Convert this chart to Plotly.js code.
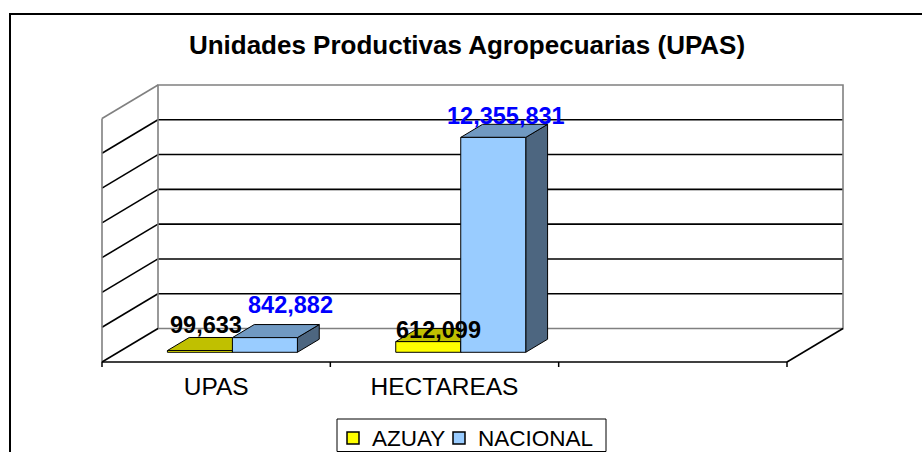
<!DOCTYPE html>
<html><head><meta charset="utf-8">
<script src="https://cdn.plot.ly/plotly-3.0.1.min.js"></script>
<style>html,body{margin:0;padding:0;background:#fff}</style>
</head><body><div id="chart" style="width:922px;height:452px"></div>
<script>
// ---------------- data ----------------
const chartTitle = 'Unidades Productivas Agropecuarias (UPAS)';
const categories = ['UPAS', 'HECTAREAS'];
const seriesNames = ['AZUAY', 'NACIONAL'];
const azuay = [99633, 612099];
const nacional = [842882, 12355831];
const yMax = 14000000;
const yStep = 2000000;
const slots = 3; // category slots on the floor (third one empty)

// ---------------- style ----------------
const FONT = 'Liberation Sans, Arial, Helvetica, sans-serif';
const faceColors = [
  {front: '#FFFF00', top: '#C0C000', side: '#808000'},
  {front: '#99CCFF', top: '#7099C2', side: '#4D6680'}
];
const labelColors = ['#000000', '#0000FF'];
// per-label pixel nudges [series][category]
const labelDx = [[-5, -1], [15, 2]];
const labelDy = [[12, -1], [20, 8]];

const W = 922, H = 452;
const box = {l: 102, r: 843, t: 85, b: 362};
const depthPx = {x: 56, y: 33.5};
const pad = 6;
const margin = {l: box.l - pad, r: W - box.r - pad, t: box.t - pad, b: H - box.b - pad, pad: 0};
const plotW = W - margin.l - margin.r, plotH = H - margin.t - margin.b;
const catPx = (box.r - box.l - depthPx.x) / slots;
const valPx = (box.b - box.t - depthPx.y) / yMax;
const DX = depthPx.x / catPx, DY = depthPx.y / valPx;
const xRange = [-pad / catPx, slots + DX + pad / catPx];
const yRange = [-pad / valPx, yMax + DY + pad / valPx];
const BAR_W = 65 / catPx;   // bar width in category units
const F0 = 0.29;            // front depth of the bars (fraction of floor depth)
const BD = 0.39;            // bar depth (fraction of floor depth)

const px2x = p => (p - margin.l) / plotW;
const py2y = p => 1 - (p - margin.t) / plotH;

// ---------------- bar faces ----------------
const series = [azuay, nacional];
const traces = [];
series.forEach((vals, s) => {
  const faces = {side: {x: [], y: []}, top: {x: [], y: []}, front: {x: [], y: []}};
  vals.forEach((v, k) => {
    const center = k + 0.5 + F0 * DX;
    const x0 = center + (s - 1) * BAR_W, x1 = x0 + BAR_W;
    const b = F0 * DY, t = b + v, bx = BD * DX, by = BD * DY;
    faces.front.x.push(x0, x1, x1, x0, x0, null);
    faces.front.y.push(b, b, t, t, b, null);
    faces.top.x.push(x0, x1, x1 + bx, x0 + bx, x0, null);
    faces.top.y.push(t, t, t + by, t + by, t, null);
    faces.side.x.push(x1, x1 + bx, x1 + bx, x1, x1, null);
    faces.side.y.push(b, b + by, t + by, t, b, null);
  });
  ['side', 'top', 'front'].forEach(f => {
    traces.push({
      type: 'scatter', mode: 'lines', fill: 'toself',
      x: faces[f].x, y: faces[f].y,
      fillcolor: faceColors[s][f],
      line: {color: '#000', width: 1},
      name: seriesNames[s], showlegend: false, hoverinfo: 'skip'
    });
  });
});

// ---------------- walls & grid ----------------
const shapes = [];
const GRAY = '#808080';
const ln = (x0, y0, x1, y1, color, width) => shapes.push({
  type: 'line', xref: 'x', yref: 'y', x0, y0, x1, y1, layer: 'below',
  line: {color, width}
});
for (let v = yStep; v < yMax; v += yStep) {
  ln(DX, v + DY, slots + DX, v + DY, '#000', 1.6);  // back wall
  ln(0, v, DX, v + DY, '#000', 1.6);                 // left wall
}
shapes.push({type: 'rect', xref: 'x', yref: 'y', x0: DX, x1: slots + DX, y0: DY, y1: yMax + DY,
  layer: 'below', line: {color: GRAY, width: 1.6}});
ln(0, 0, 0, yMax, GRAY, 1.6);
ln(0, yMax, DX, yMax + DY, GRAY, 1.6);
ln(0, 0, DX, DY, '#000', 1.6);
ln(slots, 0, slots + DX, DY, '#000', 1.6);
ln(0, 0, slots, 0, '#000', 1.6);
for (let k = 0; k <= slots; k++) ln(k, 0, k, -5 / valPx, '#000', 1.5);

// outer frame
shapes.push({type: 'rect', xref: 'paper', yref: 'paper',
  x0: px2x(10), x1: px2x(940), y0: py2y(14), y1: py2y(480),
  line: {color: '#000', width: 2}});

// legend (custom)
shapes.push({type: 'rect', xref: 'paper', yref: 'paper',
  x0: px2x(337), x1: px2x(606), y0: py2y(419), y1: py2y(451.5),
  line: {color: '#000', width: 1}});
const legendItems = [{sq: 347, tx: 370}, {sq: 453, tx: 476}];
const annotations = [];
legendItems.forEach((it, s) => {
  shapes.push({type: 'rect', xref: 'paper', yref: 'paper',
    x0: px2x(it.sq), x1: px2x(it.sq + 12), y0: py2y(432), y1: py2y(444),
    fillcolor: faceColors[s].front, line: {color: '#000', width: 1.5}});
  annotations.push({xref: 'paper', yref: 'paper', x: px2x(it.tx), y: py2y(438),
    xanchor: 'left', yanchor: 'middle', showarrow: false, text: seriesNames[s],
    font: {family: FONT, size: 22.5, color: '#000'}});
});

// data labels
series.forEach((vals, s) => {
  vals.forEach((v, k) => {
    const center = k + 0.5 + F0 * DX + (s - 0.5) * BAR_W + BD * DX / 2;
    annotations.push({
      xref: 'x', yref: 'y', x: center, y: F0 * DY + v + BD * DY,
      xanchor: 'center', yanchor: 'middle', showarrow: false,
      xshift: labelDx[s][k], yshift: labelDy[s][k],
      text: v.toLocaleString('en-US'),
      font: {family: FONT, size: 23.5, color: labelColors[s], weight: 'bold'}
    });
  });
});

const layout = {
  width: W, height: H, autosize: false, margin,
  paper_bgcolor: '#fff', plot_bgcolor: 'rgba(0,0,0,0)',
  showlegend: false,
  title: {text: chartTitle, xref: 'container', yref: 'container',
    x: 467 / W, xanchor: 'center', y: 1 - 45 / H, yanchor: 'middle',
    font: {family: FONT, size: 26, color: '#000', weight: 'bold'}},
  xaxis: {range: xRange, showgrid: false, zeroline: false, showline: false,
    tickmode: 'array', tickvals: categories.map((c, i) => i + 0.5), ticktext: categories,
    ticks: '', ticklabelstandoff: 1, tickfont: {family: FONT, size: 24.5, color: '#000'},
    fixedrange: true},
  yaxis: {range: yRange, visible: false, fixedrange: true},
  shapes, annotations
};
Plotly.newPlot('chart', traces, layout, {staticPlot: true, displayModeBar: false});
</script></body></html>
